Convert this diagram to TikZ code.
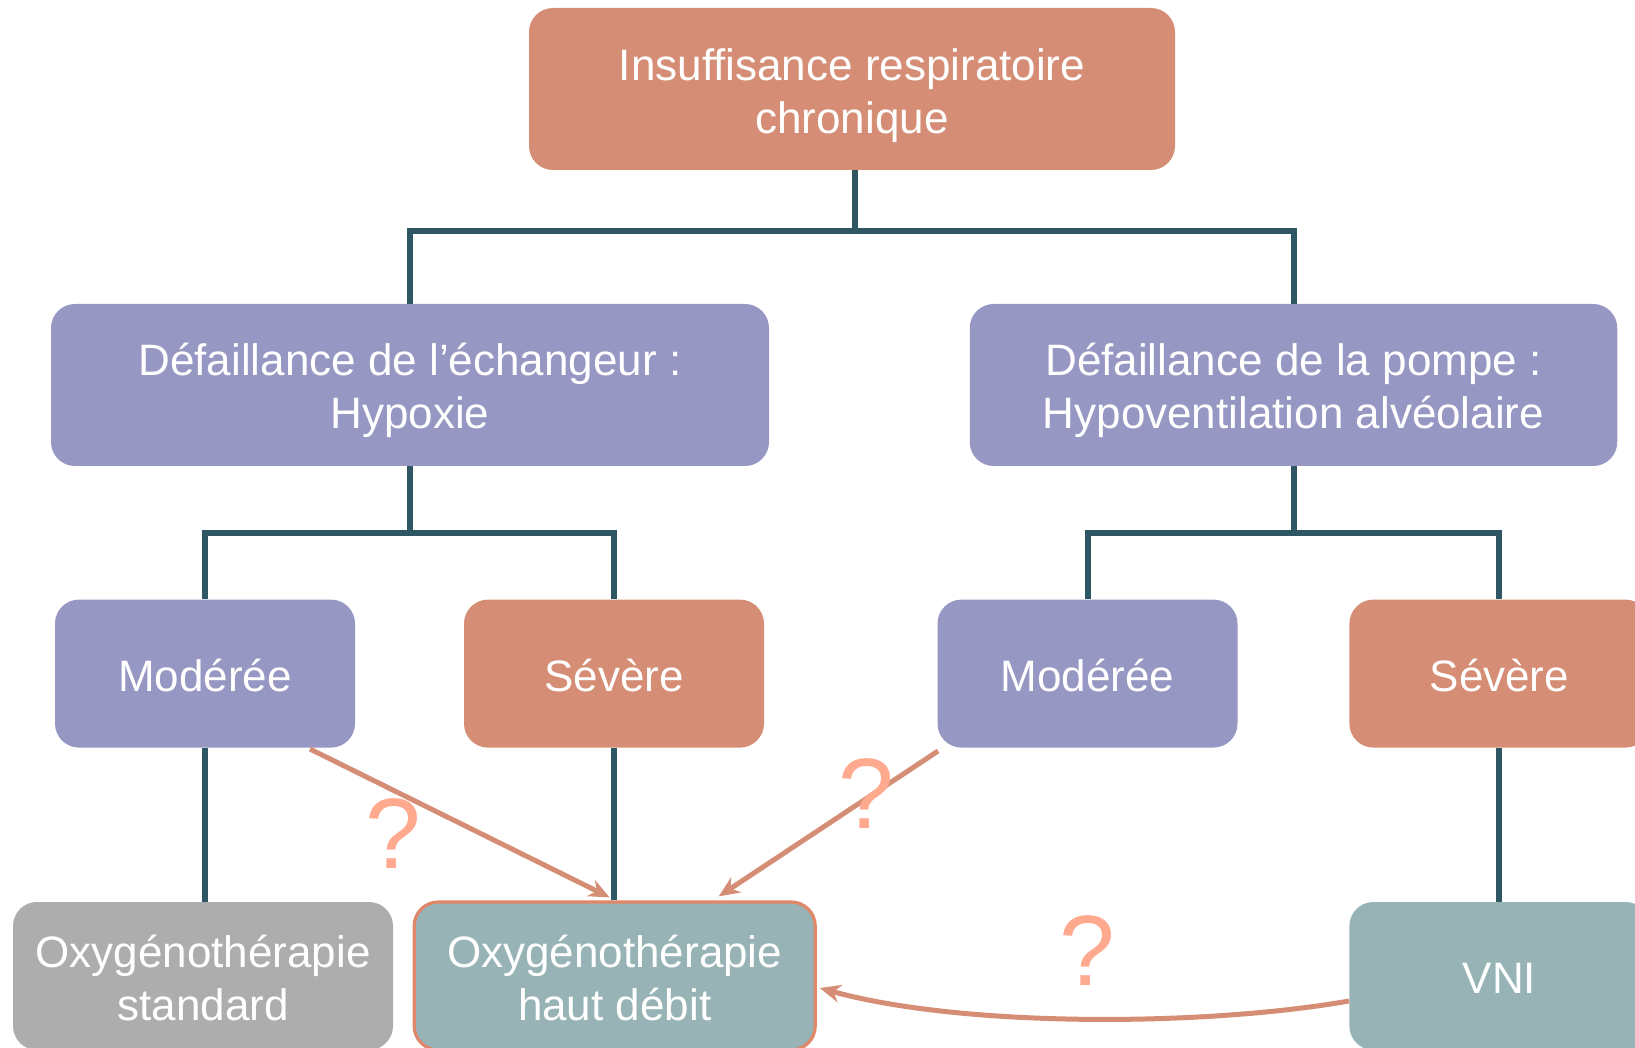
\documentclass[tikz,border=0pt]{standalone}
\usepackage{fontspec}
\setmainfont{Liberation Sans}
\usetikzlibrary{arrows.meta}
\definecolor{salmonb}{HTML}{D58E75}
\definecolor{lavb}{HTML}{9797C3}
\definecolor{tealb}{HTML}{97B3B5}
\definecolor{grayb}{HTML}{ADADAD}
\definecolor{treec}{HTML}{2F5763}
\definecolor{qcol}{HTML}{FFA98F}
\definecolor{hdborder}{HTML}{E0876A}
\begin{document}
\begin{tikzpicture}[x=0.5pt,y=-0.5pt,
  box/.style={rounded corners=12pt, inner sep=0pt},
  btext/.style={text=white, font=\fontsize{22}{26.5}\selectfont, align=center, inner sep=0pt},
  tree/.style={draw=treec, line width=3pt},
  arr/.style={draw=salmonb, line width=2.5pt, -{Stealth[length=10.5pt,width=9pt,inset=3.5pt]}},
  qm/.style={text=qcol, font=\fontsize{50}{60}\selectfont, inner sep=0pt}]
\clip (0,0) rectangle (1635,1048);
\fill[white] (0,0) rectangle (1635,1048);

% boxes
\node[box, fill=salmonb, minimum width=323pt, minimum height=81pt] (top) at (852,89) {};
\node[btext] (topt) at (852,96) {Insuffisance respiratoire\\chronique};
\node[box, fill=lavb, minimum width=359pt, minimum height=81pt] (L) at (410,385) {};
\node[btext] (Lt) at (410,390) {Défaillance de l’échangeur :\\Hypoxie};
\node[box, fill=lavb, minimum width=323.75pt, minimum height=81pt] (R) at (1293.5,385) {};
\node[btext] (Rt) at (1293.5,390) {Défaillance de la pompe :\\Hypoventilation alvéolaire};
\node[box, fill=lavb, minimum width=150pt, minimum height=74pt] (ML) at (205,673.6) {};
\node[btext] (MLt) at (205,675.6) {Modérée};
\node[box, fill=salmonb, minimum width=150pt, minimum height=74pt] (SL) at (614,673.6) {};
\node[btext] (SLt) at (614,675.6) {Sévère};
\node[box, fill=lavb, minimum width=150pt, minimum height=74pt] (MR) at (1087.5,673.6) {};
\node[btext] (MRt) at (1087.5,675.6) {Modérée};
\node[box, fill=salmonb, minimum width=150pt, minimum height=74pt] (SR) at (1499.4,673.6) {};
\node[btext] (SRt) at (1499.4,675.6) {Sévère};
\node[box, fill=grayb, minimum width=190pt, minimum height=74pt] (Std) at (203,976) {};
\node[btext] (Stdt) at (203,978) {Oxygénothérapie\\standard};
\node[box, fill=tealb, draw=hdborder, line width=1.6pt, minimum width=200.5pt, minimum height=74pt] (HD) at (614.7,976) {};
\node[btext] (HDt) at (614.7,978) {Oxygénothérapie\\haut débit};
\node[box, fill=tealb, minimum width=150pt, minimum height=74pt] (VNI) at (1499.4,976) {};
\node[btext] (VNIt) at (1499.4,978) {VNI};

% tree connectors
\coordinate (j0) at (855,231.5);
\coordinate (j1) at (410,533);
\coordinate (j2) at (1293.5,533);
\draw[tree] (top.south -| j0) -- (j0);
\draw[tree] (L.north) |- (j0) -| (R.north);
\draw[tree] (L.south) -- (j1);
\draw[tree] (ML.north) |- (j1) -| (SL.north);
\draw[tree] (R.south) -- (j2);
\draw[tree] (MR.north) |- (j2) -| (SR.north);
\draw[tree] (ML.south) -- (ML.south |- Std.north);
\draw[tree] (SL.south) -- (SL.south |- HD.north);
\draw[tree] (SR.south) -- (VNI.north);

% arrows
\coordinate (a1s) at (310,749);
\draw[arr] (a1s) -- ([xshift=-2.5pt,yshift=1.5pt]HD.north);
\draw[arr] ([xshift=0.5pt,yshift=-1.5pt]MR.south west) -- ([xshift=52pt,yshift=2pt]HD.north);
\draw[arr] ([yshift=-12.5pt]VNI.west) .. controls (1200,1027) and (960,1027) .. ([xshift=1.5pt,yshift=-6pt]HD.east);

% question marks
\node[qm] (q1) at (393,834) {?};
\node[qm] (q2) at (866,794) {?};
\node[qm] (q3) at (1087,951) {?};
\end{tikzpicture}
\end{document}
